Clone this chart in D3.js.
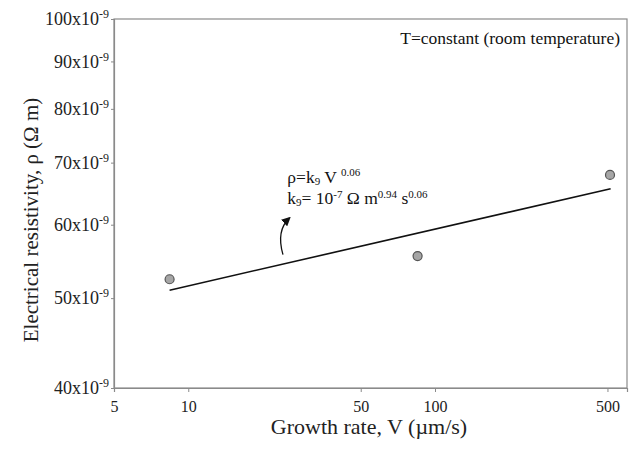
<!DOCTYPE html>
<html>
<head>
<meta charset="utf-8">
<script src="https://cdn.jsdelivr.net/npm/d3@7"></script>
<style>
  body { margin: 0; background: #fff; }
  svg { font-family: "Liberation Serif", "Times New Roman", serif; }
</style>
</head>
<body>
<div id="chart"></div>
<script>
// measured points
var growthRate = [8.4, 85, 512];
var resistivity = [52.4e-9, 55.5e-9, 67.9e-9];
// fitted power law rho = k V^0.06, drawn between its end points
var fitV = [8.4, 515];
var fitRho = [51.0e-9, 65.6e-9];
var xTicks = [5, 10, 50, 100, 500];
var yTicks = [40, 50, 60, 70, 80, 90, 100];

var margin = { top: 19, right: 2, bottom: 66, left: 114 };
var W = 629, H = 454;
var width = W - margin.left - margin.right,
    height = H - margin.top - margin.bottom;

var svg = d3.select("#chart")
  .append("svg")
  .attr("width", W)
  .attr("height", H);

var g = svg.append("g")
  .attr("transform", "translate(" + margin.left + "," + margin.top + ")");

var x = d3.scaleLog().domain([5, 600]).range([0, width]);
var y = d3.scaleLog().domain([40e-9, 100e-9]).range([height, 0]);

// frame
g.append("rect")
  .attr("width", width).attr("height", height)
  .attr("fill", "none").attr("stroke", "#8a8a8a").attr("stroke-width", 1.2);

var xAxis = d3.axisBottom(x).tickValues(xTicks).tickFormat(d3.format("d")).tickSize(4).tickPadding(9);
var yAxis = d3.axisLeft(y).tickValues(yTicks.map(function(d){ return d * 1e-9; })).tickSize(3).tickPadding(2);

var gx = g.append("g").attr("transform", "translate(0," + height + ")").call(xAxis);
var gy = g.append("g").call(yAxis);

[gx, gy].forEach(function(a){
  a.select(".domain").attr("stroke", "#8a8a8a").attr("stroke-width", 1.2);
  a.selectAll(".tick line").attr("stroke", "#8a8a8a");
  a.selectAll("text").attr("font-family", "Liberation Serif").attr("font-size", 16).attr("fill", "#222");
});

gy.selectAll(".tick text").attr("font-size", 18).each(function(d){
  var t = d3.select(this).text("");
  t.append("tspan").text(Math.round(d * 1e9) + "x10");
  t.append("tspan").attr("dy", -7).attr("font-size", 12).text("-9");
});

// fit line
var line = d3.line()
  .x(function(d){ return x(d[0]); })
  .y(function(d){ return y(d[1]); });
g.append("path")
  .datum(d3.zip(fitV, fitRho))
  .attr("d", line)
  .attr("fill", "none").attr("stroke", "#111").attr("stroke-width", 1.6);

// points
g.selectAll("circle.pt")
  .data(d3.zip(growthRate, resistivity))
  .enter()
  .append("circle")
  .attr("class", "pt")
  .attr("cx", function(d){ return x(d[0]); })
  .attr("cy", function(d){ return y(d[1]); })
  .attr("r", 4.5)
  .attr("fill", "#a6a6a6")
  .attr("stroke", "#555")
  .attr("stroke-width", 1.2);

// annotation
svg.append("defs").append("marker")
  .attr("id", "ah").attr("viewBox", "0 0 10 10")
  .attr("refX", 8).attr("refY", 5)
  .attr("markerWidth", 7).attr("markerHeight", 7)
  .attr("orient", "auto")
  .append("path").attr("d", "M0,0 L10,5 L0,10 z").attr("fill", "#111");

var a0 = [x(24.2), y(55.7e-9)], a1 = [x(25.7), y(61.0e-9)];
g.append("path")
  .attr("d", "M" + a0[0] + "," + a0[1] + " Q" + (a0[0] - 7) + "," + (a0[1] - 24) + " " + a1[0] + "," + a1[1])
  .attr("fill", "none").attr("stroke", "#111").attr("stroke-width", 1.3)
  .attr("marker-end", "url(#ah)");

var annY = y(66.6e-9);
var ann = g.append("text")
  .attr("x", x(25.2)).attr("y", annY)
  .attr("font-size", 17.5).attr("fill", "#111");
ann.append("tspan").text("ρ=k");
ann.append("tspan").attr("font-size", 11).attr("dy", 2).text("9");
ann.append("tspan").attr("dy", -2).text(" V ");
ann.append("tspan").attr("font-size", 11).attr("dy", -7).text("0.06");

var ann2 = g.append("text")
  .attr("x", x(25.2)).attr("y", annY + 21)
  .attr("font-size", 17.5).attr("fill", "#111");
ann2.append("tspan").text("k");
ann2.append("tspan").attr("font-size", 11).attr("dy", 2).text("9");
ann2.append("tspan").attr("dy", -2).text("= 10");
ann2.append("tspan").attr("font-size", 11).attr("dy", -6).text("-7");
ann2.append("tspan").attr("dy", 6).text(" Ω m");
ann2.append("tspan").attr("font-size", 11).attr("dy", -6).text("0.94");
ann2.append("tspan").attr("dy", 6).text(" s");
ann2.append("tspan").attr("font-size", 11).attr("dy", -6).text("0.06");

g.append("text")
  .attr("x", width - 7).attr("y", 25)
  .attr("text-anchor", "end")
  .attr("font-size", 17.5).attr("fill", "#111")
  .text("T=constant (room temperature)");

// axis titles
svg.append("text")
  .attr("x", 369).attr("y", 434)
  .attr("text-anchor", "middle")
  .attr("font-size", 22).attr("fill", "#222")
  .text("Growth rate, V (µm/s)");

svg.append("text")
  .attr("transform", "translate(38,220) rotate(-90)")
  .attr("text-anchor", "middle")
  .attr("font-size", 21).attr("fill", "#222")
  .text("Electrical resistivity, ρ (Ω m)");
</script>
</body>
</html>
